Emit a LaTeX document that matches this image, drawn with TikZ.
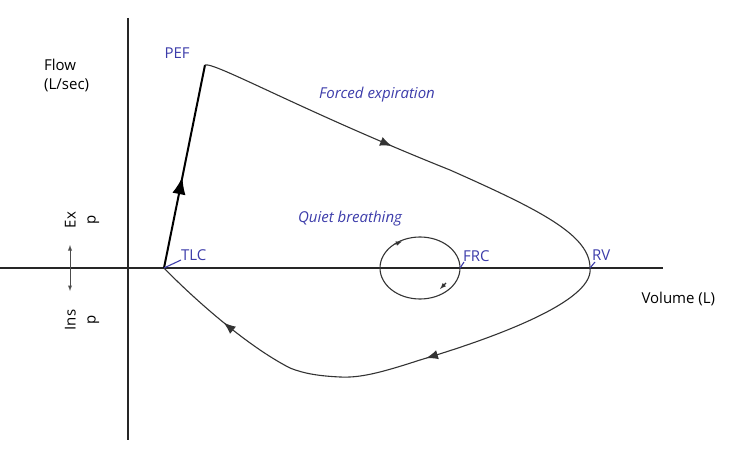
\documentclass[tikz,border=0pt]{standalone}
\usepackage{fontspec}
\setmainfont{Open Sans}
\usetikzlibrary{arrows, calc, decorations.markings, positioning}
\definecolor{lblue}{RGB}{60,60,170}
\begin{document}
\begin{tikzpicture}[x=1pt, y=-1pt]

	\tikzstyle{ax}=[line width=1.1pt, black!85]
	\tikzstyle{loop}=[line width=1.1pt, black!80]
	\tikzstyle{lbl}=[lblue, font=\fontsize{15}{18}\selectfont]
	\tikzstyle{tick}=[lblue, line width=1.1pt]
	\tikzstyle{mid}=[decoration={markings,mark=at position #1 with {\arrow[scale=2]{latex}}}, postaction={decorate}]

	\useasboundingbox (0,0) rectangle (746,454);

	\coordinate (o_t) at (128, 18);
	\coordinate (o_b) at (128, 440);
	\coordinate (x_l) at (0, 268);
	\coordinate (x_r) at (663, 268);

	\coordinate (tlc) at (164, 268);
	\coordinate (pef) at (205, 65);
	\coordinate (rv) at (590, 268);
	\coordinate (frc) at (460, 268);

	\draw[ax] (o_t) -- (o_b);
	\draw[ax] (x_l) -- (x_r);

	% loop
	\draw[line width=2pt, mid=0.45] (tlc) -- (pef);
	\draw[loop, mid=0.46] (pef) .. controls (215,62) and (300,110) .. (450,170)
		.. controls (540,210) and (590,235) .. (rv);
	\draw[loop, mid=0.97] (rv) .. controls (595,305) and (470,345) .. (420,360);
	\draw[loop] (420,360) .. controls (380,373) and (360,378) .. (340,377)
		.. controls (320,376) and (305,374) .. (290,368);
	\draw[loop, mid=0.5] (290,368) .. controls (245,345) and (190,295) .. (tlc);
	\draw[loop] (420,268) ellipse (40 and 31);
	\draw[loop, -latex] (395,244) -- (402,241.5);
	\draw[loop, -latex] (446,283) -- (440,289);

	% labels
	\node[lbl, anchor=west] (l_pef) at (161, 53) {PEF};
	\node[lbl, font=\fontsize{15}{18}\selectfont\itshape] (l_fe) at (377, 95) {Forced expiration};
	\node[lbl, font=\fontsize{15}{18}\selectfont\itshape] (l_qb) at (350, 219) {Quiet breathing};
	\node[lbl, anchor=west, inner sep=1pt] (l_tlc) at (180, 255) {TLC};
	\node[lbl, anchor=west, inner sep=1pt] (l_frc) at (462, 256) {FRC};
	\node[lbl, anchor=west, inner sep=1pt] (l_rv) at (591, 255) {RV};
	\draw[tick] (tlc) -- ++(17,-8);
	\draw[tick] (frc) -- ++(4,-6);
	\draw[tick] (rv) -- ++(5,-6);

	\node[anchor=west, align=left, font=\fontsize{15}{19}\selectfont, inner sep=0] (flow) at (44, 75) {Flow\\(L/sec)};
	\node[anchor=west, font=\fontsize{15}{18}\selectfont] (vol) at (638, 299) {Volume (L)};
	\node[rotate=90, align=center, font=\fontsize{15}{20}\selectfont, inner sep=0] (ex) at (82, 220) {Ex\\p};
	\node[rotate=90, align=center, font=\fontsize{15}{20}\selectfont, inner sep=0] (ins) at (82, 320) {Ins\\p};
	\draw[black!70, line width=0.9pt, latex-latex] (70, 245) -- (70, 291);

\end{tikzpicture}
\end{document}
